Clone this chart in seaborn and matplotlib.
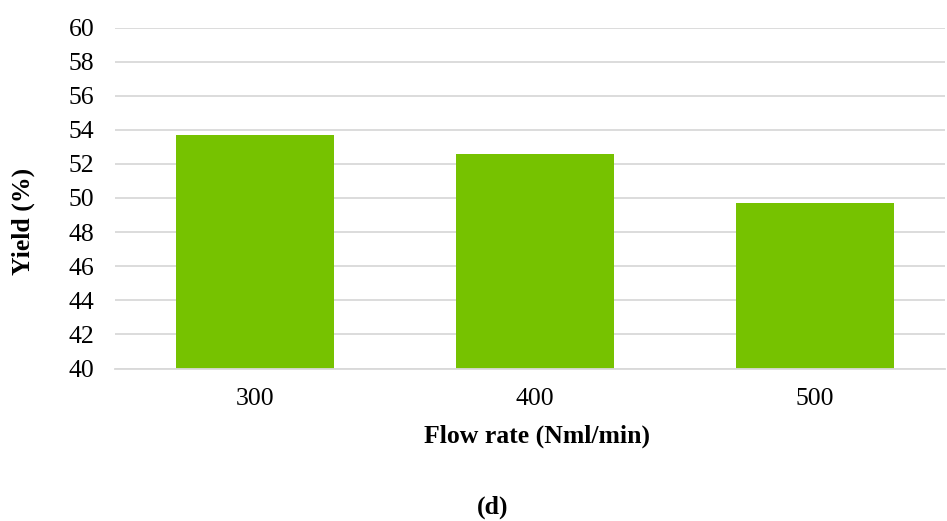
import matplotlib
matplotlib.use("Agg")
import matplotlib.pyplot as plt
import seaborn as sns
import pandas as pd

# ============================================================
# DATA
# ============================================================

flow_rates = ["300", "400", "500"]
yield_pct = [53.7, 52.6, 49.7]
y_ticks = [40, 42, 44, 46, 48, 50, 52, 54, 56, 58, 60]

df = pd.DataFrame({"flow": flow_rates, "yield": yield_pct})

# ============================================================
# STYLE
# ============================================================

sns.set_style("white")
plt.rcParams['font.family'] = ['Liberation Serif', 'DejaVu Serif']
plt.rcParams['text.color'] = 'black'

W, H = 947, 521
FS = 18.5

fig = plt.figure(figsize=(W / 100, H / 100), dpi=100)
ax = fig.add_axes([115 / W, 1 - 368.5 / H, 830 / W, (368.5 - 27.5) / H])

sns.barplot(
    data=df,
    x="flow",
    y="yield",
    order=flow_rates,
    color="#76C200",
    saturation=1,
    width=0.565,
    linewidth=0,
    edgecolor="none",
    ax=ax
)

ax.set_ylim(40, 60)
ax.set_xlim(-0.5, 2.464)
ax.set_yticks(y_ticks)

ax.yaxis.grid(True, color="#D9D9D9", linewidth=1.3)
ax.set_axisbelow(True)

for side in ["top", "right", "left"]:
    ax.spines[side].set_visible(False)
ax.spines["bottom"].set_color("#D9D9D9")
ax.spines["bottom"].set_linewidth(1.3)

ax.tick_params(axis="y", length=0, pad=15, labelsize=FS, labelcolor="black")
ax.tick_params(axis="x", length=0, pad=14, labelsize=FS, labelcolor="black")

ax.set_xlabel("")
ax.set_ylabel("")

# axis titles
fig.text(537 / W, 1 - 443 / H, "Flow rate (Nml/min)",
         ha="center", va="baseline", fontsize=FS, fontweight="bold")
fig.text(23 / W, 1 - 221 / H, "Yield (%)", rotation=90,
         ha="center", va="center", fontsize=FS, fontweight="bold")

# panel label
fig.text(493 / W, 1 - 507 / H, "(d)",
         ha="center", va="center", fontsize=FS, fontweight="bold")

fig.savefig("out.png", dpi=100)
